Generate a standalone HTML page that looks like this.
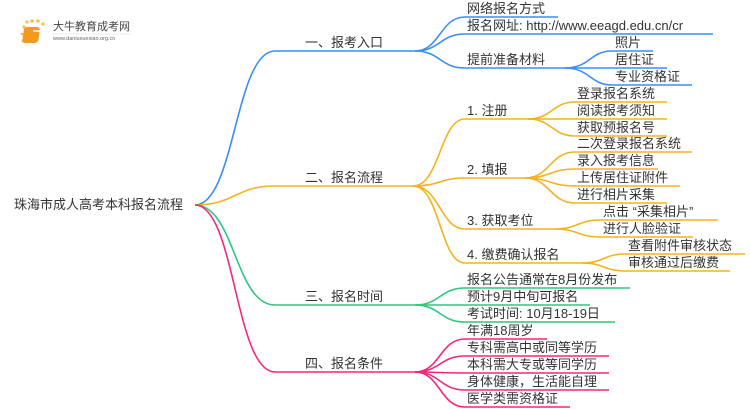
<!DOCTYPE html>
<html><head><meta charset="utf-8"><style>
html,body{margin:0;padding:0;background:#fff;}
svg{display:block;}
text{font-family:"Liberation Sans","Noto Sans CJK SC",sans-serif;font-size:13px;fill:#333;}
path{fill:none;stroke-width:1.6;}
.b{stroke:#3a8ef6}.o{stroke:#f5b21f}.g{stroke:#2fc77e}.p{stroke:#f5267e}
</style></head><body>
<svg width="750" height="410" viewBox="0 0 750 410">
<g>
<circle cx="24" cy="27" r="1.6" fill="#f7c04a"/><circle cx="27" cy="22" r="1.6" fill="#f7c04a"/><circle cx="32" cy="21" r="1.8" fill="#f7c04a"/><circle cx="38" cy="21" r="1.8" fill="#f7c04a"/><circle cx="43" cy="24" r="1.6" fill="#f7c04a"/><circle cx="22" cy="34" r="1.4" fill="#f7c04a"/><circle cx="23" cy="41" r="1.4" fill="#f7c04a"/>
<rect x="28" y="27" width="16" height="16" rx="3" fill="#f39a1e" transform="skewX(-8)"/>
<rect x="33" y="30" width="9" height="2" fill="#fff" opacity="0.7"/>
<text x="53" y="30" style="font-size:11px;fill:#444">大牛教育成考网</text>
<text x="53" y="40" style="font-size:5.5px;fill:#666">www.daniuxuexiao.org.cn</text>
<line x1="53" y1="34" x2="132" y2="34" stroke="#ddd" stroke-width="0.6"/>
</g>
<text x="14" y="209">珠海市成人高考本科报名流程</text>
<path class="b" d="M195 205 C235 205,235 51,275 51 H415"/>
<path class="o" d="M195 205 C235 205,235 186,275 186 H413"/>
<path class="g" d="M195 205 C235 205,235 305,275 305 H415"/>
<path class="p" d="M195 205 C235 205,235 372,275 372 H415"/>
<text x="305" y="47">一、报考入口</text>
<text x="305" y="182">二、报名流程</text>
<text x="305" y="301">三、报名时间</text>
<text x="305" y="368">四、报名条件</text>
<path class="b" d="M415 51 C440 51,440 17,465 17 H558"/>
<path class="b" d="M415 51 C440 51,440 34,465 34 H713"/>
<path class="b" d="M415 51 C440 51,440 68,465 68 H565"/>
<text x="467" y="13">网络报名方式</text>
<text x="467" y="30">报名网址: http://www.eeagd.edu.cn/cr</text>
<text x="467" y="64">提前准备材料</text>
<path class="b" d="M565 68 C590 68,590 51,612 51 H653"/>
<path class="b" d="M565 68 C590 68,590 68,612 68 H667"/>
<path class="b" d="M565 68 C590 68,590 85,612 85 H692"/>
<text x="615" y="47">照片</text>
<text x="615" y="64">居住证</text>
<text x="615" y="81">专业资格证</text>
<path class="o" d="M413 186 C440 186,440 119,465 119 H528"/>
<path class="o" d="M413 186 C440 186,440 178,465 178 H525"/>
<path class="o" d="M413 186 C440 186,440 229,465 229 H555"/>
<path class="o" d="M413 186 C440 186,440 263,465 263 H582"/>
<text x="467" y="115">1. 注册</text>
<text x="467" y="174">2. 填报</text>
<text x="467" y="225">3. 获取考位</text>
<text x="467" y="259">4. 缴费确认报名</text>
<path class="o" d="M528 119 C552 119,552 102,575 102 H667"/>
<path class="o" d="M528 119 C552 119,552 119,575 119 H667"/>
<path class="o" d="M528 119 C552 119,552 136,575 136 H667"/>
<text x="577" y="98">登录报名系统</text>
<text x="577" y="115">阅读报考须知</text>
<text x="577" y="132">获取预报名号</text>
<path class="o" d="M525 178 C550 178,550 152,575 152 H692"/>
<path class="o" d="M525 178 C550 178,550 169,575 169 H658"/>
<path class="o" d="M525 178 C550 178,550 186,575 186 H680"/>
<path class="o" d="M525 178 C550 178,550 203,575 203 H667"/>
<text x="577" y="148">二次登录报名系统</text>
<text x="577" y="165">录入报考信息</text>
<text x="577" y="182">上传居住证附件</text>
<text x="577" y="199">进行相片采集</text>
<path class="o" d="M555 229 C578 229,578 220,600 220 H718"/>
<path class="o" d="M555 229 C578 229,578 237,600 237 H693"/>
<text x="603" y="216">点击 “采集相片”</text>
<text x="603" y="233">进行人脸验证</text>
<path class="o" d="M582 263 C604 263,604 254,625 254 H745"/>
<path class="o" d="M582 263 C604 263,604 271,625 271 H730"/>
<text x="628" y="250">查看附件审核状态</text>
<text x="628" y="267">审核通过后缴费</text>
<path class="g" d="M415 305 C440 305,440 288,465 288 H630"/>
<path class="g" d="M415 305 C440 305,440 305,465 305 H590"/>
<path class="g" d="M415 305 C440 305,440 322,465 322 H615"/>
<text x="467" y="284">报名公告通常在8月份发布</text>
<text x="467" y="301">预计9月中旬可报名</text>
<text x="467" y="318">考试时间: 10月18-19日</text>
<path class="p" d="M415 372 C440 372,440 339,465 339 H547"/>
<path class="p" d="M415 372 C440 372,440 356,465 356 H609"/>
<path class="p" d="M415 372 C440 372,440 373,465 373 H609"/>
<path class="p" d="M415 372 C440 372,440 390,465 390 H609"/>
<path class="p" d="M415 372 C440 372,440 407,465 407 H570"/>
<text x="467" y="335">年满18周岁</text>
<text x="467" y="352">专科需高中或同等学历</text>
<text x="467" y="369">本科需大专或等同学历</text>
<text x="467" y="386">身体健康，生活能自理</text>
<text x="467" y="403">医学类需资格证</text>
</svg>
</body></html>
